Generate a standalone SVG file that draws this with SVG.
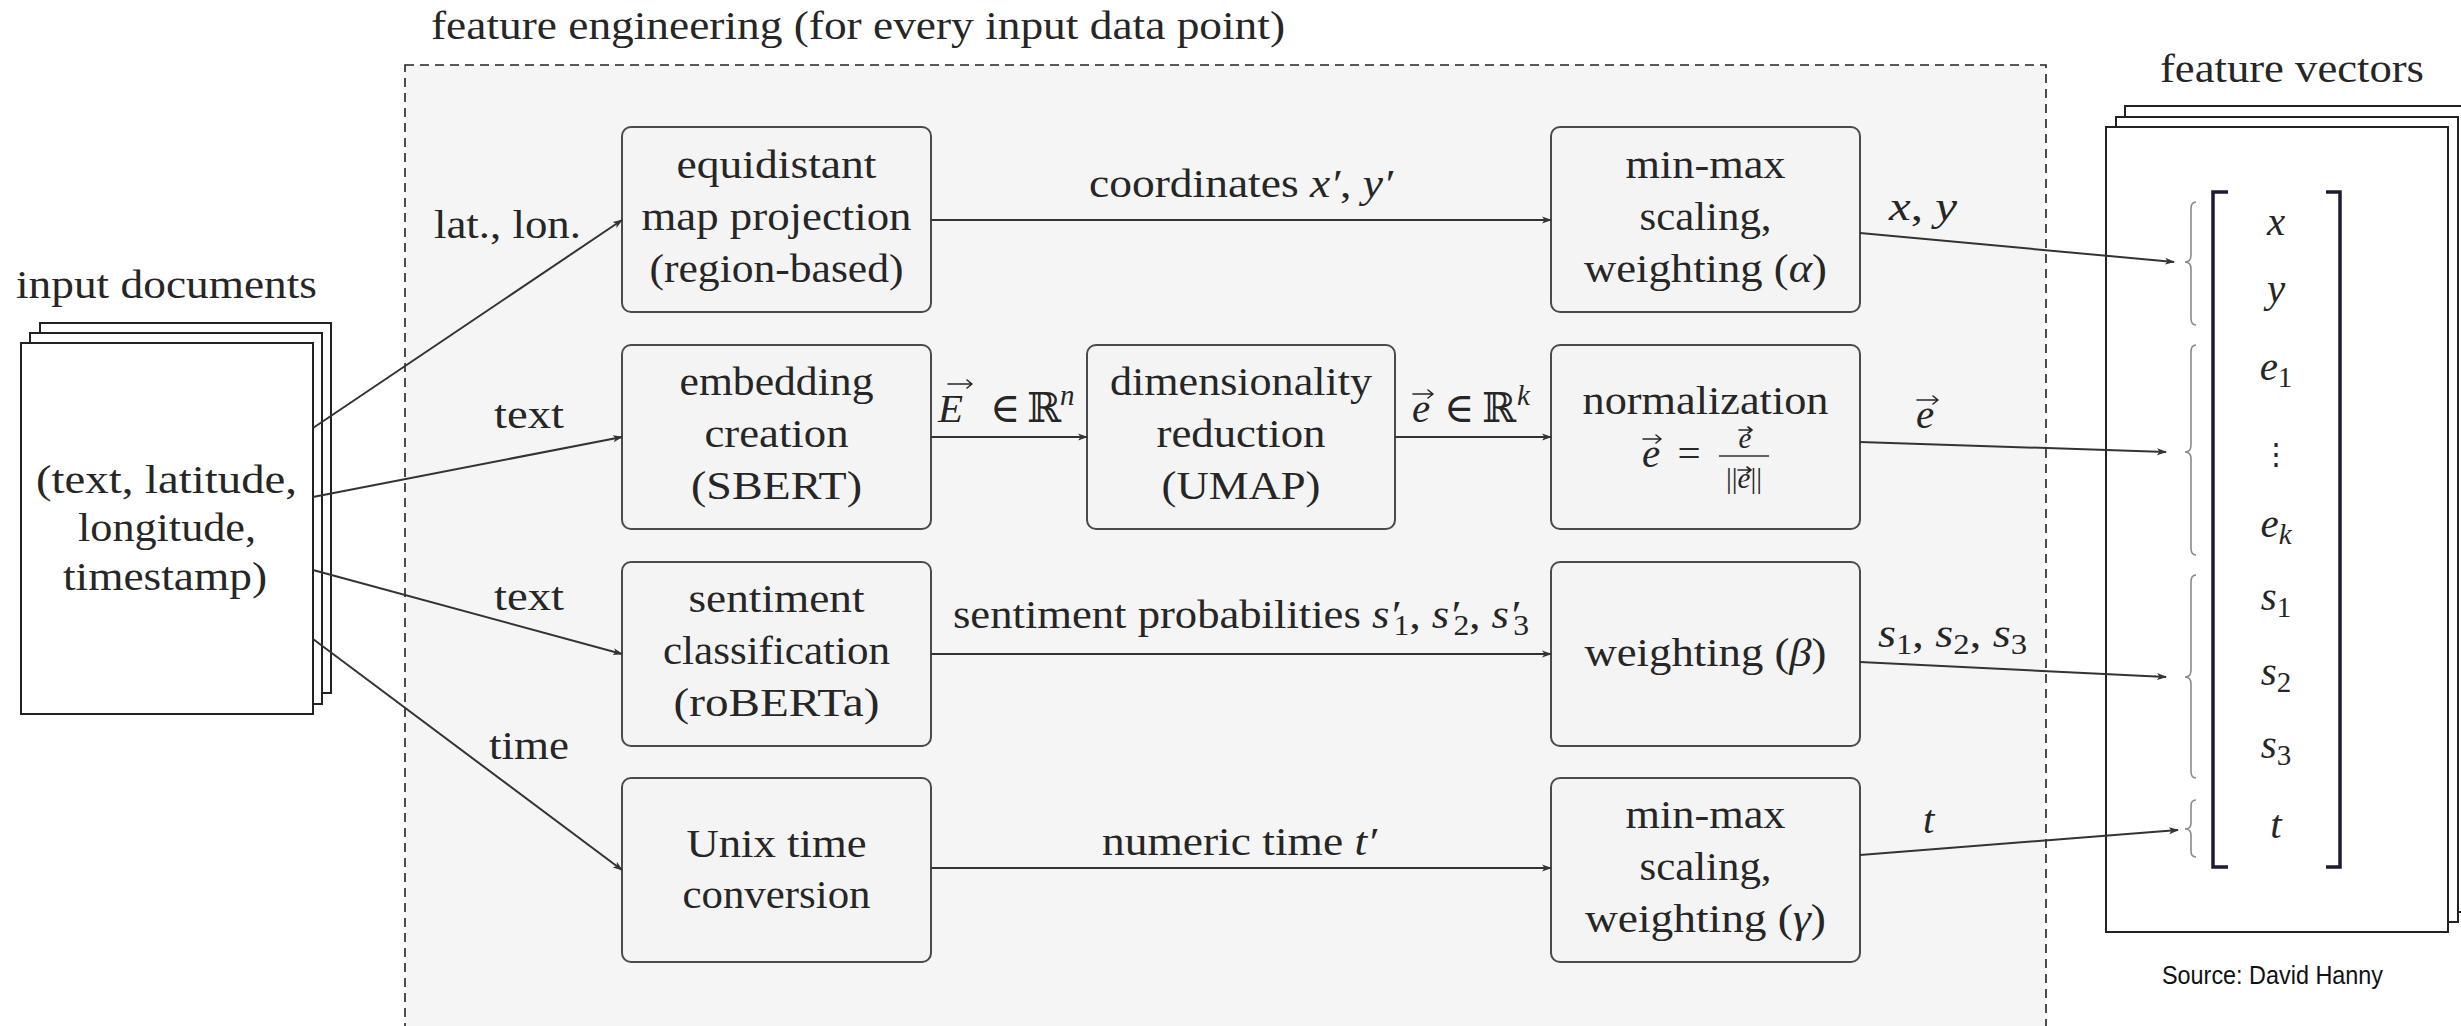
<svg xmlns="http://www.w3.org/2000/svg" width="2461" height="1026" viewBox="0 0 2461 1026">
<defs>
<style>
text{font-family:"Liberation Serif","DejaVu Serif",serif;font-size:41px;fill:#262626}
.m{text-anchor:middle}
.i{font-style:italic}
.sub{font-size:29px}
.box{fill:#f4f4f4;stroke:#4a4a4a;stroke-width:2}
.doc{fill:#fff;stroke:#222;stroke-width:2}
.con{fill:none;stroke:#333;stroke-width:2;marker-end:url(#ah)}
.brace{fill:none;stroke:#8a8a8a;stroke-width:1.6}
.brk{fill:none;stroke:#1c1c38;stroke-width:3.5}
.vec{fill:none;stroke:#262626;stroke-width:1.6;stroke-linecap:round;stroke-linejoin:round}
.src{font-family:"Liberation Sans","DejaVu Sans",sans-serif;font-size:25px;fill:#111}
</style>
<marker id="ah" viewBox="0 0 10 10" refX="9" refY="5" markerWidth="10" markerHeight="10" markerUnits="userSpaceOnUse" orient="auto">
<path d="M0,1.5 L10,5 L0,8.5 L2.5,5 z" fill="#333"/>
</marker>
</defs>
<rect width="2461" height="1026" fill="#fff"/>

<g id="feature-engineering">
<rect x="405" y="65" width="1641" height="980" fill="#f5f5f5" stroke="#222" stroke-width="1.6" stroke-dasharray="9,6"/>
<text x="431" y="39" textLength="854" lengthAdjust="spacingAndGlyphs">feature engineering (for every input data point)</text>
</g>

<g id="input-documents">
<text x="16" y="298" textLength="301" lengthAdjust="spacingAndGlyphs">input documents</text>
<rect class="doc" x="40" y="323" width="291" height="370"/>
<rect class="doc" x="30" y="333" width="292" height="371"/>
<rect class="doc" x="21" y="343" width="292" height="371"/>
<text x="36" y="493" textLength="261" lengthAdjust="spacingAndGlyphs">(text, latitude,</text>
<text x="78" y="541" textLength="178" lengthAdjust="spacingAndGlyphs">longitude,</text>
<text x="63" y="590" textLength="204" lengthAdjust="spacingAndGlyphs">timestamp)</text>
</g>

<g id="map-projection">
<rect class="box" x="622" y="127" width="309" height="185" rx="9"/>
<text class="m" x="776.5" y="178" textLength="200" lengthAdjust="spacingAndGlyphs">equidistant</text>
<text class="m" x="776.5" y="230" textLength="270" lengthAdjust="spacingAndGlyphs">map projection</text>
<text class="m" x="776.5" y="282" textLength="254" lengthAdjust="spacingAndGlyphs">(region-based)</text>
</g>

<g id="embedding">
<rect class="box" x="622" y="345" width="309" height="184" rx="9"/>
<text class="m" x="776.5" y="395" textLength="194" lengthAdjust="spacingAndGlyphs">embedding</text>
<text class="m" x="776.5" y="447" textLength="144" lengthAdjust="spacingAndGlyphs">creation</text>
<text class="m" x="776.5" y="499" textLength="171" lengthAdjust="spacingAndGlyphs">(SBERT)</text>
</g>

<g id="sentiment">
<rect class="box" x="622" y="562" width="309" height="184" rx="9"/>
<text class="m" x="776.5" y="612" textLength="176" lengthAdjust="spacingAndGlyphs">sentiment</text>
<text class="m" x="776.5" y="664" textLength="227" lengthAdjust="spacingAndGlyphs">classification</text>
<text class="m" x="776.5" y="716" textLength="206" lengthAdjust="spacingAndGlyphs">(roBERTa)</text>
</g>

<g id="unix-time">
<rect class="box" x="622" y="778" width="309" height="184" rx="9"/>
<text class="m" x="776.5" y="857" textLength="180" lengthAdjust="spacingAndGlyphs">Unix time</text>
<text class="m" x="776.5" y="908" textLength="188" lengthAdjust="spacingAndGlyphs">conversion</text>
</g>

<g id="dim-reduction">
<rect class="box" x="1087" y="345" width="308" height="184" rx="9"/>
<text class="m" x="1241" y="395" textLength="262" lengthAdjust="spacingAndGlyphs">dimensionality</text>
<text class="m" x="1241" y="447" textLength="169" lengthAdjust="spacingAndGlyphs">reduction</text>
<text class="m" x="1241" y="499" textLength="159" lengthAdjust="spacingAndGlyphs">(UMAP)</text>
</g>

<g id="minmax-alpha">
<rect class="box" x="1551" y="127" width="309" height="185" rx="9"/>
<text class="m" x="1705.5" y="178" textLength="160" lengthAdjust="spacingAndGlyphs">min-max</text>
<text class="m" x="1705.5" y="230" textLength="132" lengthAdjust="spacingAndGlyphs">scaling,</text>
<text class="m" x="1705.5" y="282" textLength="243" lengthAdjust="spacingAndGlyphs">weighting (<tspan class="i">α</tspan>)</text>
</g>

<g id="normalization">
<rect class="box" x="1551" y="345" width="309" height="184" rx="9"/>
<text class="m" x="1705.5" y="414" textLength="246" lengthAdjust="spacingAndGlyphs">normalization</text>
<text class="i m" x="1651" y="467">e</text>
<path class="vec" d="M1643,439 H1661 M1656,435 L1661,439 L1656,443"/>
<text class="m" x="1689" y="467">=</text>
<text class="i sub m" x="1745" y="448">e</text>
<path class="vec" d="M1739,430 H1752 M1748,427 L1752,430 L1748,433" stroke-width="1.3"/>
<line x1="1719" y1="456" x2="1769" y2="456" stroke="#333" stroke-width="1.6"/>
<text class="sub m" x="1744" y="488">||<tspan class="i">e</tspan>||</text>
<path class="vec" d="M1738,470 H1751 M1747,467 L1751,470 L1747,473" stroke-width="1.3"/>
</g>

<g id="weighting-beta">
<rect class="box" x="1551" y="562" width="309" height="184" rx="9"/>
<text class="m" x="1705.5" y="666" textLength="242" lengthAdjust="spacingAndGlyphs">weighting (<tspan class="i">β</tspan>)</text>
</g>

<g id="minmax-gamma">
<rect class="box" x="1551" y="778" width="309" height="184" rx="9"/>
<text class="m" x="1705.5" y="828" textLength="160" lengthAdjust="spacingAndGlyphs">min-max</text>
<text class="m" x="1705.5" y="880" textLength="132" lengthAdjust="spacingAndGlyphs">scaling,</text>
<text class="m" x="1705.5" y="932" textLength="241" lengthAdjust="spacingAndGlyphs">weighting (<tspan class="i">γ</tspan>)</text>
</g>

<g id="feature-vectors">
<text x="2160" y="82" textLength="264" lengthAdjust="spacingAndGlyphs">feature vectors</text>
<rect class="doc" x="2125" y="106" width="345" height="806"/>
<rect class="doc" x="2116" y="117" width="342" height="805"/>
<rect class="doc" x="2106" y="127" width="342" height="805"/>
<path class="brk" d="M2228,192 H2213 V867 H2228"/>
<path class="brk" d="M2326,192 H2340 V867 H2326" stroke="#222"/>
<path class="brace" d="M2196,202 Q2191,202 2191,209 L2191,255 Q2191,262 2185,262 Q2191,262 2191,269 L2191,318 Q2191,325 2196,325"/>
<path class="brace" d="M2196,345 Q2191,345 2191,352 L2191,445 Q2191,452 2185,452 Q2191,452 2191,459 L2191,548 Q2191,555 2196,555"/>
<path class="brace" d="M2196,575 Q2191,575 2191,582 L2191,670 Q2191,677 2185,677 Q2191,677 2191,684 L2191,771 Q2191,778 2196,778"/>
<path class="brace" d="M2196,800 Q2191,800 2191,806 L2191,823 Q2191,829 2185,829 Q2191,829 2191,835 L2191,851 Q2191,857 2196,857"/>
<text class="m i" x="2276" y="235">x</text>
<text class="m i" x="2276" y="302">y</text>
<text class="m" x="2276" y="380"><tspan class="i">e</tspan><tspan class="sub" dy="7">1</tspan></text>
<text class="m" x="2276" y="464" style="font-size:30px">⋮</text>
<text class="m" x="2276" y="537"><tspan class="i">e</tspan><tspan class="sub i" dy="7">k</tspan></text>
<text class="m" x="2276" y="610"><tspan class="i">s</tspan><tspan class="sub" dy="7">1</tspan></text>
<text class="m" x="2276" y="685"><tspan class="i">s</tspan><tspan class="sub" dy="7">2</tspan></text>
<text class="m" x="2276" y="758"><tspan class="i">s</tspan><tspan class="sub" dy="7">3</tspan></text>
<text class="m i" x="2276" y="838">t</text>
</g>

<g id="connectors">
<line class="con" x1="313" y1="428" x2="622" y2="220"/>
<line class="con" x1="313" y1="497" x2="622" y2="437"/>
<line class="con" x1="313" y1="570" x2="622" y2="654"/>
<line class="con" x1="313" y1="639" x2="622" y2="870"/>
<line class="con" x1="931" y1="220" x2="1551" y2="220"/>
<line class="con" x1="931" y1="437" x2="1087" y2="437"/>
<line class="con" x1="1395" y1="437" x2="1551" y2="437"/>
<line class="con" x1="931" y1="654" x2="1551" y2="654"/>
<line class="con" x1="931" y1="868" x2="1551" y2="868"/>
<line class="con" x1="1860" y1="233" x2="2174" y2="262"/>
<line class="con" x1="1860" y1="442" x2="2166" y2="452"/>
<line class="con" x1="1860" y1="662" x2="2166" y2="677"/>
<line class="con" x1="1860" y1="855" x2="2178" y2="830"/>
<text x="434" y="238" textLength="147" lengthAdjust="spacingAndGlyphs">lat., lon.</text>
<text x="494" y="428" textLength="70" lengthAdjust="spacingAndGlyphs">text</text>
<text x="494" y="610" textLength="70" lengthAdjust="spacingAndGlyphs">text</text>
<text x="489" y="759" textLength="80" lengthAdjust="spacingAndGlyphs">time</text>
<text x="1089" y="197" textLength="304" lengthAdjust="spacingAndGlyphs">coordinates <tspan class="i">x′</tspan>, <tspan class="i">y′</tspan></text>
<text class="i" x="938" y="422">E</text>
<path class="vec" d="M948,384 H972 M967,380 L972,384 L967,388"/>
<text x="990" y="422">∈</text>
<text x="1027" y="422">ℝ</text>
<text class="i sub" x="1060" y="405">n</text>
<text class="i" x="1412" y="422">e</text>
<path class="vec" d="M1413,394 H1433 M1428,390 L1433,394 L1428,398"/>
<text x="1444" y="422">∈</text>
<text x="1482" y="422">ℝ</text>
<text class="i sub" x="1517" y="405">k</text>
<text x="953" y="628" textLength="576" lengthAdjust="spacingAndGlyphs">sentiment probabilities <tspan class="i">s′</tspan><tspan class="sub" dx="-5" dy="7">1</tspan><tspan dy="-7">, </tspan><tspan class="i">s′</tspan><tspan class="sub" dx="-5" dy="7">2</tspan><tspan dy="-7">, </tspan><tspan class="i">s′</tspan><tspan class="sub" dx="-5" dy="7">3</tspan></text>
<text x="1102" y="855" textLength="275" lengthAdjust="spacingAndGlyphs">numeric time <tspan class="i">t′</tspan></text>
<text x="1889" y="220" textLength="68" lengthAdjust="spacingAndGlyphs"><tspan class="i">x</tspan>, <tspan class="i">y</tspan></text>
<text class="i" x="1916" y="428">e</text>
<path class="vec" d="M1917,400 H1938 M1933,396 L1938,400 L1933,404"/>
<text x="1878" y="647" textLength="149" lengthAdjust="spacingAndGlyphs"><tspan class="i">s</tspan><tspan class="sub" dy="7">1</tspan><tspan dy="-7">, </tspan><tspan class="i">s</tspan><tspan class="sub" dy="7">2</tspan><tspan dy="-7">, </tspan><tspan class="i">s</tspan><tspan class="sub" dy="7">3</tspan></text>
<text class="i" x="1923" y="833">t</text>
</g>

<text class="src" x="2162" y="984" textLength="221" lengthAdjust="spacingAndGlyphs">Source: David Hanny</text>
</svg>
